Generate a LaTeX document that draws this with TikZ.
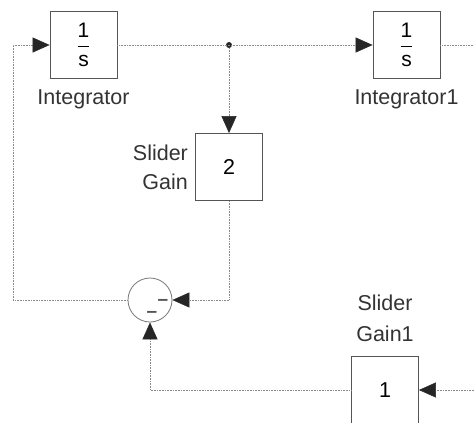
\documentclass[tikz,border=0pt]{standalone}
\usepackage{amsmath}
\usepackage{fontspec}
\setmainfont{Liberation Sans}
\usetikzlibrary{positioning,arrows.meta}
\definecolor{sgline}{HTML}{8A8A8A}
\definecolor{sgbox}{HTML}{555555}
\definecolor{sgtip}{HTML}{262626}
\newcommand{\lblfont}{\fontsize{21.5}{29}\selectfont}
\newcommand{\fracfont}{\fontsize{21}{24}\selectfont}
\newcommand{\intfrac}{$\displaystyle\frac{\text{1}}{\text{s}}$}

\begin{document}
\begin{tikzpicture}[x=1pt,y=-1pt,font=\lblfont,
  blk/.style={draw=sgbox,line width=0.8pt,minimum width=67pt,minimum height=67pt,inner sep=0pt},
  sumblk/.style={circle,draw=sgbox!80,line width=0.8pt,minimum size=44pt,inner sep=0pt},
  dot/.style={circle,fill=sgtip,inner sep=0pt,minimum size=6pt},
  sgn/.style={inner sep=0pt,font=\fontsize{19}{19}\selectfont\bfseries,text=sgbox},
  lbl/.style={inner sep=0pt,text=black!80},
  sig/.style={draw=sgline,line width=0.6pt,densely dotted},
  tip/.style={-{Triangle[length=17pt,width=15pt,color=sgtip]}}]
  \useasboundingbox (0,0) rectangle (474,423);
  % blocks
  \node[blk,font=\fracfont] (integ)    at (83.5,45)  {\intfrac};
  \node[blk,font=\fracfont] (integone) at (406.5,45) {\intfrac};
  \node[blk] (gain)    at (229,167) {2};
  \node[blk] (gainone) at (385,390) {1};
  \node[sumblk] (sum)  at (150,300) {};
  \node[sgn] (sgnr) at (163,302) {--};
  \node[sgn] (sgnb) at (152,314) {--};
  \node[dot] (split)   at (229,45) {};
  % labels
  \node[lbl,below=11pt of integ]    (lbinteg)    {Integrator};
  \node[lbl,below=11pt of integone] (lbintegone) {Integrator1};
  \node[lbl,left=7pt of gain,align=right] (lbgain) {Slider\\Gain};
  \node[lbl,above=14pt of gainone,align=center,font=\fontsize{21.5}{31}\selectfont] (lbgainone) {Slider\\Gain1};
  % free ends
  \coordinate (lcorner) at (13,300);
  \coordinate (outr)    at (474,45);
  \coordinate (inr)     at (474,390);
  % signals
  \draw[sig,tip] (integ.east) -- (integone.west);
  \draw[sig] (integone.east) -- (outr);
  \draw[sig,tip] (split) -- (gain.north);
  \draw[sig,tip] (gain.south) |- (sum.east);
  \draw[sig,tip] (sum.west) -- (lcorner) |- (integ.west);
  \draw[sig,tip] (inr) -- (gainone.east);
  \draw[sig,tip] (gainone.west) -| (sum.south);
\end{tikzpicture}
\end{document}
